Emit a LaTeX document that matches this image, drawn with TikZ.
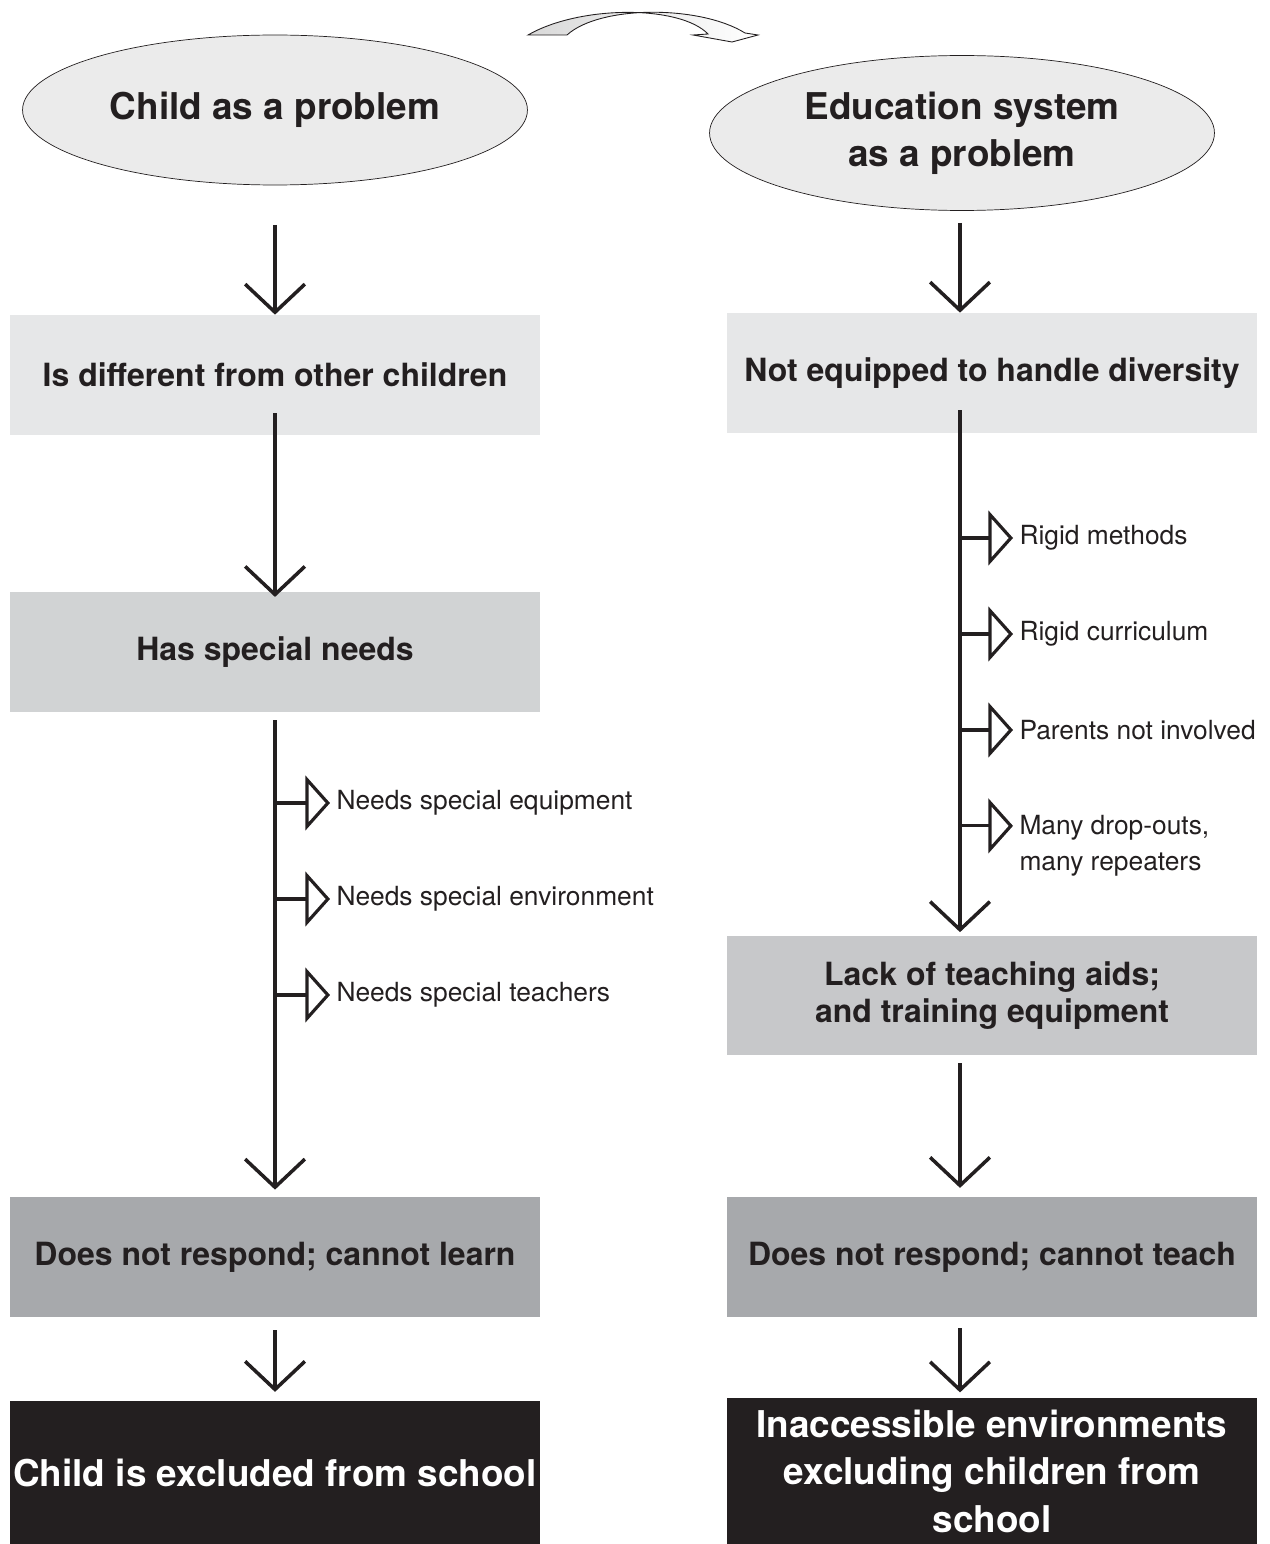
\documentclass[tikz,border=0pt]{standalone}
\usepackage{fontspec}
\setmainfont{TeX Gyre Heros}
\usetikzlibrary{arrows.meta,shapes.geometric}

\definecolor{ink}{HTML}{231F20}
\definecolor{boxA}{HTML}{E6E7E8}
\definecolor{boxB}{HTML}{D1D3D4}
\definecolor{boxC}{HTML}{C7C8CA}
\definecolor{boxD}{HTML}{A7A9AC}
\definecolor{ellfill}{HTML}{EBEBEB}

\tikzset{
  flow/.style={line width=2pt, draw=ink, -{Straight Barb[length=16pt,width=34pt,line width=2pt]}},
  tick/.style={line width=1.8pt, draw=ink, -{Triangle[open,length=14pt,width=31pt,line width=1.8pt]}},
  ell/.style={ellipse, draw=ink, thin, fill=ellfill, minimum width=10.1cm, minimum height=3cm,
    font=\bfseries\fontsize{21}{26.6}\selectfont, align=center, text=ink},
  box/.style={rectangle, minimum width=10.6cm, minimum height=2.4cm, inner sep=0pt,
    font=\bfseries\fontsize{18.2}{21}\selectfont, align=center, text=ink},
  endbox/.style={box, fill=ink, text=white, font=\bfseries\fontsize{21}{27}\selectfont},
  side/.style={font=\fontsize{15}{20.4}\selectfont, text=ink, align=left, inner xsep=3.5pt, inner ysep=0pt}
}

\begin{document}
\begin{tikzpicture}[x=0.02cm,y=-0.02cm]
  \useasboundingbox (0,0) rectangle (1269,1544);

  % twisted arrow on top
  \shade[left color=gray!30, right color=white, draw=ink, line width=0.5pt]
    (528,35) .. controls (580,5) and (680,5) .. (708,34) -- (693,35) -- (732,42)
    -- (758,35) -- (745,33) .. controls (700,5) and (600,5) .. (567,35) -- cycle;

  % left column
  \node[ell] (child) at (275,110) {Child as a problem};
  \node[box, fill=boxA] (diff) at (275,375) {Is different from other children};
  \node[box, fill=boxB] (needs) at (275,652) {Has special needs};
  \node[box, fill=boxD] (learn) at (275,1257) {Does not respond; cannot learn};
  \node[endbox, minimum height=2.86cm] (excl) at (275,1472.5) {Child is excluded from school};

  \coordinate (l1) at (275,225);
  \coordinate (l2) at (275,413);
  \coordinate (l3) at (275,720);
  \coordinate (l4) at (275,1330);
  \draw[flow] (l1) -- (diff.north);
  \draw[flow] (l2) -- ([yshift=-3pt]needs.north);
  \draw[flow] (l3) -- ([yshift=4pt]learn.north);
  \draw[flow] (l4) -- ([yshift=5pt]excl.north);

  \foreach \y/\name/\txt in {803/lequip/Needs special equipment,
                             899/lenvir/Needs special environment,
                             995/lteach/Needs special teachers}{
    \node[side, anchor=west] (\name) at (330,\y) {\txt};
    \draw[tick] (l3 |- \name.west) -- (\name.west);
  }

  % right column
  \node[ell, minimum height=3.1cm] (system) at (962,133) {Education system\\as a problem};
  \node[box, fill=boxA] (divers) at (992,373) {Not equipped to handle diversity};
  \node[box, fill=boxC, minimum height=2.38cm] (aids) at (992,995.5) {Lack of teaching aids;\\and training equipment};
  \node[box, fill=boxD] (teach) at (992,1257) {Does not respond; cannot teach};
  \node[endbox, minimum height=2.92cm] (inacc) at (992,1471) {Inaccessible environments\\excluding children from\\school};

  \coordinate (r1) at (960,223);
  \coordinate (r2) at (960,410);
  \coordinate (r3) at (960,1063);
  \coordinate (r4) at (960,1328);
  \draw[flow] (r1) -- (r1 |- divers.north);
  \draw[flow] (r2) -- ([yshift=2pt]r2 |- aids.north);
  \draw[flow] (r3) -- ([yshift=5pt]r3 |- teach.north);
  \draw[flow] (r4) -- ([yshift=3pt]r4 |- inacc.north);

  \foreach \y/\name/\txt in {538/rmeth/Rigid methods,
                             634/rcurr/Rigid curriculum,
                             730/rpar/Parents not involved}{
    \node[side, anchor=west] (\name) at (1013,\y) {\txt};
    \draw[tick] (r2 |- \name.west) -- (\name.west);
  }
  \node[side, anchor=north west] (rdrop) at (1013,815) {Many drop-outs,\\many repeaters};
  \coordinate (rdropin) at ([yshift=-6.2pt]rdrop.north west);
  \draw[tick] (r2 |- rdropin) -- (rdropin);
\end{tikzpicture}
\end{document}
